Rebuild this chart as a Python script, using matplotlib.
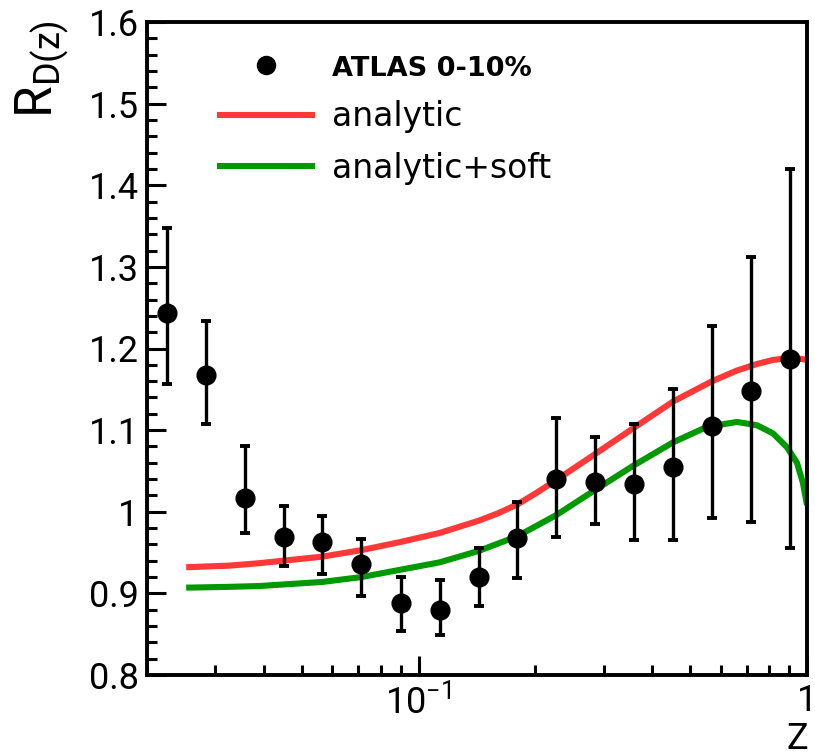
import matplotlib
matplotlib.use("Agg")
import matplotlib.pyplot as plt
from matplotlib.ticker import FixedLocator, NullFormatter, FuncFormatter, MultipleLocator
from matplotlib.lines import Line2D

# ATLAS 0-10% jet fragmentation ratio R_D(z)
z_data = [0.02254, 0.02842, 0.03581, 0.04514, 0.05656, 0.0713, 0.0899, 0.1133,
          0.1428, 0.1796, 0.2264, 0.2854, 0.3588, 0.452, 0.570, 0.7173, 0.904]
r_data = [1.243, 1.167, 1.017, 0.969, 0.963, 0.936, 0.888, 0.880,
          0.920, 0.968, 1.040, 1.037, 1.034, 1.055, 1.105, 1.148, 1.187]
r_low = [1.157, 1.108, 0.974, 0.934, 0.924, 0.897, 0.854, 0.849,
         0.885, 0.919, 0.969, 0.985, 0.965, 0.966, 0.992, 0.988, 0.956]
r_high = [1.348, 1.234, 1.080, 1.007, 0.995, 0.967, 0.920, 0.916,
          0.955, 1.012, 1.115, 1.092, 1.108, 1.150, 1.227, 1.312, 1.420]

# model curves: analytic (energy loss only) and analytic + soft contribution
z_analytic = [0.02523, 0.0326, 0.03893, 0.05656, 0.0713, 0.0899, 0.1133, 0.1428,
              0.160, 0.1796, 0.201, 0.2264, 0.2854, 0.3588, 0.452, 0.570, 0.660,
              0.7433, 0.8173, 0.8881, 0.9423, 1.0]
r_analytic = [0.932, 0.934, 0.937, 0.945, 0.953, 0.963, 0.974, 0.989,
              0.998, 1.009, 1.023, 1.039, 1.071, 1.103, 1.135, 1.160, 1.173,
              1.181, 1.186, 1.188, 1.188, 1.186]
z_soft = [0.02523, 0.0326, 0.03893, 0.05656, 0.0713, 0.0899, 0.1133, 0.1428,
          0.1796, 0.2264, 0.2854, 0.3588, 0.452, 0.5525, 0.660, 0.7433,
          0.8173, 0.8881, 0.9423, 0.9765, 1.0]
r_soft = [0.907, 0.908, 0.909, 0.914, 0.920, 0.929, 0.938, 0.952,
          0.970, 0.996, 1.027, 1.057, 1.085, 1.104, 1.110, 1.106,
          1.096, 1.079, 1.060, 1.035, 1.008]

y_ticks = [0.8, 0.9, 1.0, 1.1, 1.2, 1.3, 1.4, 1.5, 1.6]
y_tick_labels = ["0.8", "0.9", "1", "1.1", "1.2", "1.3", "1.4", "1.5", "1.6"]

plt.rcParams["font.family"] = ["Roboto", "DejaVu Sans"]
plt.rcParams["mathtext.fontset"] = "custom"
plt.rcParams["mathtext.rm"] = "Roboto"
plt.rcParams["mathtext.it"] = "Roboto:italic"

fig = plt.figure(figsize=(8.15, 7.55), dpi=100)
ax = fig.add_axes([147 / 815, 80 / 755, 660 / 815, 653 / 755])

ax.plot(z_analytic, r_analytic, color="#ff3838", lw=4.4, solid_capstyle="butt",
        solid_joinstyle="round", zorder=2)
ax.plot(z_soft, r_soft, color="#009a00", lw=4.4, solid_capstyle="butt",
        solid_joinstyle="round", zorder=2)

yerr = [[r - lo for r, lo in zip(r_data, r_low)], [hi - r for r, hi in zip(r_data, r_high)]]
ax.errorbar(z_data, r_data, yerr=yerr, fmt="o", color="black", ms=13.5,
            elinewidth=2.4, capsize=3.3, capthick=2.8, zorder=3)

ax.set_xscale("log")
ax.set_xlim(0.02, 1.0)
ax.set_ylim(0.8, 1.6)

# axis ticks
ax.yaxis.set_major_locator(FixedLocator(y_ticks))
ax.yaxis.set_major_formatter(FuncFormatter(lambda v, p: y_tick_labels[int(round((v - 0.8) * 10))]))
ax.yaxis.set_minor_locator(MultipleLocator(0.02))
ax.xaxis.set_major_locator(FixedLocator([0.1, 1.0]))
ax.xaxis.set_major_formatter(FuncFormatter(lambda v, p: "$10^{-1}$" if v < 0.5 else "1"))
minors = [k * 0.01 for k in range(2, 10)] + [k * 0.1 for k in range(2, 10)]
ax.xaxis.set_minor_locator(FixedLocator(minors))
ax.xaxis.set_minor_formatter(NullFormatter())

ax.tick_params(which="both", direction="in", width=2.2, top=False, right=False,
               labelsize=26, colors="black")
ax.tick_params(which="major", length=13.5, pad=6)
ax.tick_params(which="minor", length=7.2)
for s in ax.spines.values():
    s.set_linewidth(2.8)

# axis titles
fig.text(42 / 815, 1 - 69 / 755, r"$\mathrm{R}_{\mathrm{D(z)}}$", rotation=90,
         ha="center", va="center", fontsize=37)
fig.text(808 / 815, 1 - 749 / 755, "Z", ha="right", va="baseline", fontsize=26)

# legend
handles = [Line2D([], [], ls="none", marker="o", color="black", ms=13),
           Line2D([], [], color="#ff3838", lw=4.4),
           Line2D([], [], color="#009a00", lw=4.4)]
leg = ax.legend(handles, ["ATLAS 0-10%", "analytic", "analytic+soft"],
                loc="upper left", bbox_to_anchor=(0.11, 0.952), frameon=False,
                prop={"family": "DejaVu Sans", "size": 23.7},
                handlelength=2.8, handletextpad=0.6, labelspacing=0.55,
                borderpad=0, borderaxespad=0)
t0 = leg.get_texts()[0]
t0.set_fontweight("bold")
t0.set_fontsize(19.5)

fig.savefig("out.png", dpi=100)
